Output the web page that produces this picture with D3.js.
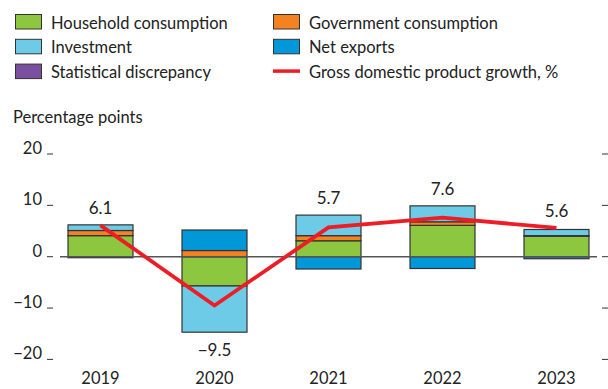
<!DOCTYPE html>
<html>
<head>
<meta charset="utf-8">
<script src="https://cdn.jsdelivr.net/npm/d3@7"></script>
<style>
  html, body { margin: 0; padding: 0; background: #fff; }
  svg { display: block; font-family: Lato, "Open Sans", sans-serif; }
</style>
</head>
<body>
<svg id="chart" width="608" height="389"></svg>
<script>
const years       = ['2019', '2020', '2021', '2022', '2023'];
const household   = [4.1, -5.7, 3.1, 6.1, 4.0];
const government  = [1.0, 1.2, 1.0, 0.7, 0.1];
const investment  = [1.1, -9.0, 4.0, 3.1, 1.2];
const netExports  = [-0.2, 4.0, -2.4, -2.3, -0.4];
const discrepancy = [0, 0, 0, 0, 0];
const gdpGrowth   = [6.1, -9.5, 5.7, 7.6, 5.6];
const yTicks      = [-20, -10, 0, 10, 20];

const seriesKeys = ['household', 'government', 'investment', 'netExports', 'discrepancy'];
const seriesNames = {
  household: 'Household consumption',
  government: 'Government consumption',
  investment: 'Investment',
  netExports: 'Net exports',
  discrepancy: 'Statistical discrepancy'
};
const colors = {
  household: '#8dc63f',
  government: '#f58220',
  investment: '#6dcbe7',
  netExports: '#0098d8',
  discrepancy: '#7b4fa0'
};
const RED = '#ee1c25';
const TEXT = '#222';

const rows = years.map((yr, i) => ({
  year: yr,
  household: household[i],
  government: government[i],
  investment: investment[i],
  netExports: netExports[i],
  discrepancy: discrepancy[i],
  gdp: gdpGrowth[i]
}));

const svg = d3.select('#chart');

// ── Scales ─────────────────────────────────────────────
const x = d3.scaleBand()
  .domain(years)
  .range([43.5, 613.5])
  .paddingInner(0.43)
  .paddingOuter(0.215);

const y = d3.scaleLinear()
  .domain([-20, 20])
  .range([359.4, 154]);

// ── Legend ─────────────────────────────────────────────
const legendItems = [
  { key: 'household', col: 0, row: 0 },
  { key: 'government', col: 1, row: 0 },
  { key: 'investment', col: 0, row: 1 },
  { key: 'netExports', col: 1, row: 1 },
  { key: 'discrepancy', col: 0, row: 2 },
  { key: 'gdp', col: 1, row: 2 }
];
const legend = svg.append('g');
legendItems.forEach(it => {
  const lx = it.col === 0 ? 15 : 273;
  const ly = 14 + it.row * 24.8;
  const g = legend.append('g').attr('transform', `translate(${lx},${ly})`);
  if (it.key === 'gdp') {
    g.append('line')
      .attr('x1', 0).attr('x2', 27)
      .attr('y1', 7.5).attr('y2', 7.5)
      .attr('stroke', RED).attr('stroke-width', 3.5);
  } else {
    g.append('rect')
      .attr('x', 0.5).attr('y', 0.5)
      .attr('width', 26).attr('height', 14.5)
      .attr('fill', colors[it.key])
      .attr('stroke', '#333').attr('stroke-width', 1);
  }
  g.append('text')
    .attr('x', 36)
    .attr('y', 14.5)
    .attr('font-size', 16.5)
    .attr('fill', TEXT)
    .text(it.key === 'gdp' ? 'Gross domestic product growth, %' : seriesNames[it.key]);
});

// ── Axis title ─────────────────────────────────────────
svg.append('text')
  .attr('x', 13)
  .attr('y', 123)
  .attr('font-size', 16.5)
  .attr('fill', TEXT)
  .text('Percentage points');

// ── Y ticks (left labels + underscore marks, right marks) ─
const tickG = svg.append('g');
yTicks.forEach(v => {
  tickG.append('text')
    .attr('x', 42)
    .attr('y', y(v))
    .attr('text-anchor', 'end')
    .attr('font-size', 16.5)
    .attr('fill', TEXT)
    .text(v < 0 ? '\u2212' + Math.abs(v) : v);
  tickG.append('line')
    .attr('x1', 47).attr('x2', 53)
    .attr('y1', y(v)).attr('y2', y(v))
    .attr('stroke', '#333').attr('stroke-width', 1);
  tickG.append('line')
    .attr('x1', 602).attr('x2', 608)
    .attr('y1', y(v)).attr('y2', y(v))
    .attr('stroke', '#333').attr('stroke-width', 1);
});

// ── Stacked bars ───────────────────────────────────────
const stack = d3.stack()
  .keys(seriesKeys)
  .offset(d3.stackOffsetDiverging);
const stacked = stack(rows);

const barG = svg.append('g');
stacked.forEach(layer => {
  barG.selectAll(null)
    .data(layer.filter(d => d[1] !== d[0]))
    .join('rect')
    .attr('x', d => x(d.data.year))
    .attr('width', x.bandwidth())
    .attr('y', d => y(Math.max(d[0], d[1])))
    .attr('height', d => Math.abs(y(d[0]) - y(d[1])))
    .attr('fill', colors[layer.key])
    .attr('stroke', '#333')
    .attr('stroke-width', 1.2);
});

// ── Zero line ──────────────────────────────────────────
svg.append('line')
  .attr('x1', 60).attr('x2', 597)
  .attr('y1', y(0)).attr('y2', y(0))
  .attr('stroke', '#555').attr('stroke-width', 1.6);

// ── GDP growth line ────────────────────────────────────
const line = d3.line()
  .x(d => x(d.year) + x.bandwidth() / 2)
  .y(d => y(d.gdp));
svg.append('path')
  .datum(rows)
  .attr('d', line)
  .attr('fill', 'none')
  .attr('stroke', RED)
  .attr('stroke-width', 3.8)
  .attr('stroke-linejoin', 'miter');

// ── GDP labels ─────────────────────────────────────────
const posTop = rows.map(r => d3.sum(seriesKeys, k => Math.max(0, r[k])));
const negBot = rows.map(r => d3.sum(seriesKeys, k => Math.min(0, r[k])));
rows.forEach((r, i) => {
  const cx = x(r.year) + x.bandwidth() / 2;
  const below = r.gdp < 0;
  const ly = below ? y(negBot[i]) + 24 : y(Math.max(posTop[i], r.gdp)) - 11;
  svg.append('text')
    .attr('x', cx)
    .attr('y', ly)
    .attr('text-anchor', 'middle')
    .attr('font-size', 17)
    .attr('fill', TEXT)
    .text(r.gdp < 0 ? '\u2212' + Math.abs(r.gdp).toFixed(1) : r.gdp.toFixed(1));
});

// ── X labels ───────────────────────────────────────────
svg.append('g')
  .selectAll('text')
  .data(years)
  .join('text')
  .attr('x', d => x(d) + x.bandwidth() / 2)
  .attr('y', 384)
  .attr('text-anchor', 'middle')
  .attr('font-size', 16.5)
  .attr('fill', TEXT)
  .text(d => d);
</script>
</body>
</html>
